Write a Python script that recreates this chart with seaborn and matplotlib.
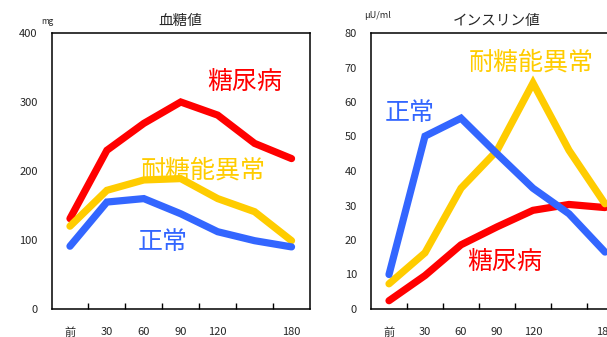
import matplotlib
matplotlib.use("Agg")
import matplotlib.pyplot as plt
import seaborn as sns
import pandas as pd
import numpy as np

times = ["前", "30", "60", "90", "120", "150", "180"]
tick_labels = ["前", "30", "60", "90", "120", "", "180"]
groups = ["糖尿病", "耐糖能異常", "正常"]

glucose_diabetes = [131, 230, 269, 300, 281, 240, 218]
glucose_igt = [120, 172, 187, 189, 160, 141, 99]
glucose_normal = [91, 155, 160, 138, 112, 99, 90]

insulin_diabetes = [2.4, 9.7, 18.6, 23.8, 28.6, 30.3, 29.4]
insulin_igt = [7.3, 16.3, 35.0, 45.9, 65.5, 46.0, 30.5]
insulin_normal = [10.0, 50.1, 55.3, 45.0, 35.0, 27.6, 16.5]

colors = {"糖尿病": "#FF0000", "耐糖能異常": "#FFCC00", "正常": "#3366FF"}

sns.set_style("white")
plt.rcParams['font.family'] = ['Noto Sans CJK JP', 'DejaVu Sans']


def long_df(series):
    rows = []
    for g, vals in zip(groups, series):
        for i, v in enumerate(vals):
            rows.append({"pos": i, "group": g, "value": v})
    return pd.DataFrame(rows)


fig = plt.figure(figsize=(6.07, 3.37), dpi=100)
W, H = 607, 337
ax1 = fig.add_axes([51.5 / W, (H - 309) / H, (310 - 51.5) / W, 276 / H])
ax2 = fig.add_axes([371 / W, (H - 309) / H, 252 / W, 276 / H])

df1 = long_df([glucose_diabetes, glucose_igt, glucose_normal])
df2 = long_df([insulin_diabetes, insulin_igt, insulin_normal])

for ax, df, ymax, ystep in [(ax1, df1, 400, 100), (ax2, df2, 80, 10)]:
    sns.lineplot(data=df, x="pos", y="value", hue="group", palette=colors,
                 hue_order=groups, linewidth=5.2, legend=False, ax=ax,
                 solid_capstyle="round", solid_joinstyle="miter")
    ax.set_xlim(-0.5, 6.5)
    ax.set_ylim(0, ymax)
    ax.set_xlabel("")
    ax.set_ylabel("")
    ax.set_xticks(range(7))
    ax.set_xticklabels(tick_labels, fontsize=8)
    ax.set_xticks(np.arange(0.5, 6.5, 1.0), minor=True)
    ax.tick_params(axis="x", which="major", length=0, pad=13)
    ax.tick_params(axis="x", which="minor", length=4, direction="in",
                   width=1, color="black", bottom=True)
    ax.set_yticks(np.arange(0, ymax + 1, ystep))
    ax.tick_params(axis="y", length=0, pad=10, labelsize=8)
    for s in ax.spines.values():
        s.set_visible(True)
        s.set_color("black")
        s.set_linewidth(1.1)
    ax.grid(False)

big = 18
# Left panel annotations
ax1.set_title("血糖値", fontsize=10.5, pad=6)
fig.text(47 / W, 1 - 22 / H, "mg", fontsize=6, ha="center", va="center")
ax1.text(4.74, 329, "糖尿病", color="#FF0000", fontsize=big, ha="center", va="center")
ax1.text(3.60, 200, "耐糖能異常", color="#FFCC00", fontsize=big, ha="center", va="center")
ax1.text(2.52, 97, "正常", color="#3366FF", fontsize=big, ha="center", va="center")

# Right panel annotations
ax2.set_title("インスリン値", fontsize=10.5, pad=6)
fig.text(378 / W, 1 - 16 / H, "μU/ml", fontsize=6.5, ha="center", va="center")
ax2.text(3.94, 71.3, "耐糖能異常", color="#FFCC00", fontsize=big, ha="center", va="center")
ax2.text(0.58, 56.8, "正常", color="#3366FF", fontsize=big, ha="center", va="center")
ax2.text(3.22, 13.6, "糖尿病", color="#FF0000", fontsize=big, ha="center", va="center")

fig.savefig("out.png", dpi=100)
